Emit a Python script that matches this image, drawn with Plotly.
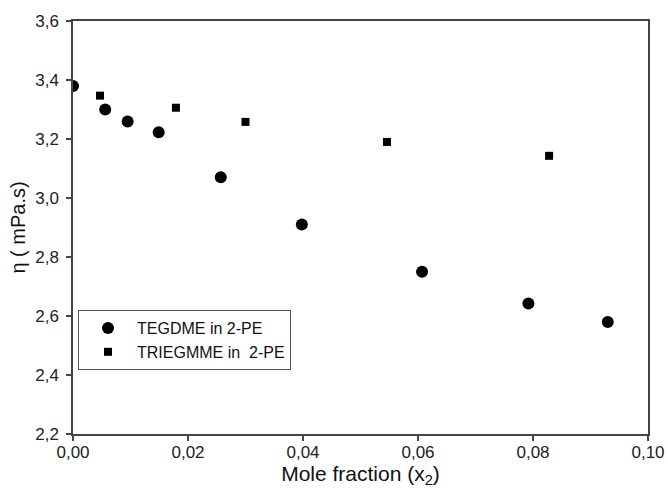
import plotly.graph_objects as go

tegdme_x = [0.0000, 0.0056, 0.0095, 0.0149, 0.0257, 0.0398, 0.0607, 0.0792, 0.0930]
tegdme_y = [3.380, 3.300, 3.259, 3.223, 3.070, 2.910, 2.750, 2.642, 2.580]

triegmme_x = [0.0047, 0.0179, 0.0300, 0.0546, 0.0828]
triegmme_y = [3.347, 3.306, 3.258, 3.190, 3.143]

names = ["TEGDME in 2-PE", "TRIEGMME in  2-PE"]

fig = go.Figure()
fig.add_trace(go.Scatter(x=tegdme_x, y=tegdme_y, mode="markers", name=names[0],
                         marker=dict(symbol="circle", size=12, color="black")))
fig.add_trace(go.Scatter(x=triegmme_x, y=triegmme_y, mode="markers", name=names[1],
                         marker=dict(symbol="square", size=8, color="black")))

axis_common = dict(showline=True, linecolor="#444", linewidth=1.5, mirror=True,
                   ticks="outside", ticklen=5, tickcolor="#444", tickwidth=1.5,
                   showgrid=False, zeroline=False, automargin=False,
                   tickfont=dict(size=17, color="#222"))

fig.update_layout(
    width=668, height=488,
    margin=dict(l=73, r=20, t=21, b=54),
    paper_bgcolor="white", plot_bgcolor="white",
    font=dict(family="Arial, Liberation Sans, sans-serif", color="#111"),
    separators=",.",
    showlegend=True,
    legend=dict(x=0.0087, y=0.300, xanchor="left", yanchor="top",
                bordercolor="#555", borderwidth=1, bgcolor="white",
                font=dict(size=16, color="#111"), tracegroupgap=0,
                itemwidth=48),
    xaxis=dict(range=[0, 0.10], tick0=0, dtick=0.02, tickformat=".2f",
               ticklabelstandoff=-3,
               title=dict(text="Mole fraction (x<sub>2</sub>)", font=dict(size=21, color="#111"), standoff=10),
               **axis_common),
    yaxis=dict(range=[2.2, 3.6], tick0=2.2, dtick=0.2, tickformat=".1f",
               ticklabelstandoff=4,
               title=dict(text="η ( mPa.s)", font=dict(size=20, color="#111"), standoff=4),
               **axis_common),
)

fig.write_html("out.html", config={"displayModeBar": False},
               post_script="document.body.style.margin='0';document.body.style.overflow='hidden';")
